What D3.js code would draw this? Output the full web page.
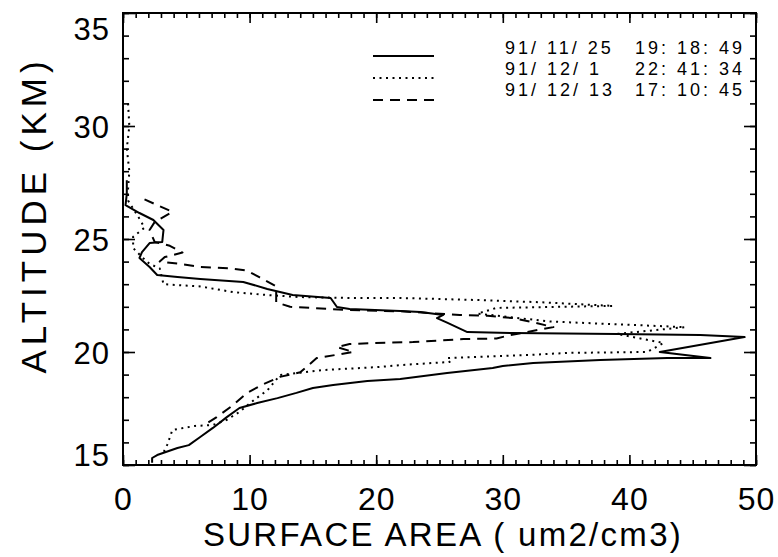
<!DOCTYPE html>
<html>
<head>
<meta charset="utf-8">
<script src="https://cdn.jsdelivr.net/npm/d3@7"></script>
<style>
html,body{margin:0;padding:0;background:#fff;}
svg{display:block;}
text{font-family:"Liberation Sans",Arial,Helvetica,sans-serif;fill:#000;}
</style>
</head>
<body>
<svg id="chart" width="778" height="557"></svg>
<script>
// ---- data ----
const xTicks = [0, 10, 20, 30, 40, 50];
const yTicks = [15, 20, 25, 30, 35];
const legendDates = ["91/ 11/ 25", "91/ 12/ 1", "91/ 12/ 13"];
const legendTimes = ["19: 18: 49", "22: 41: 34", "17: 10: 45"];

// 91/11/25 (solid)
const alt1 = [27.6,27.0,26.5,26.15,25.84,25.4,24.87,24.82,24.42,24.16,23.76,23.41,23.32,23.23,23.1,22.79,22.52,22.39,21.99,21.9,21.81,21.77,21.64,21.5,21.3,20.88,20.84,20.8,20.75,20.66,20.0,19.73,19.73,19.65,19.51,19.38,19.29,19.07,18.81,18.72,18.54,18.41,18.19,17.96,17.74,17.52,17.12,16.64,16.24,15.88,15.75,15.44,15.31,15.1];
const val1 = [0.3,0.3,0.2,1.3,2.4,3.2,3.1,2.1,1.5,1.3,2.1,2.7,4.3,6.1,9.5,11.4,13.4,16.4,16.9,17.9,21.9,23.5,25.3,24.8,25.6,27.2,30.8,39.0,45.6,49.1,42.4,46.4,43.0,37.7,32.4,30.0,29.2,25.6,21.9,19.3,16.6,15.0,13.7,12.2,10.6,9.2,8.2,7.1,6.1,5.2,4.3,2.7,2.3,2.3];

// 91/12/1 (dotted)
const alt2 = [31.0,30.0,29.0,28.0,27.2,26.7,25.9,25.5,25.1,24.6,24.2,23.9,23.7,23.0,22.9,22.65,22.52,22.43,22.39,22.39,22.3,22.2,22.04,21.95,21.7,21.35,21.1,20.8,20.4,20.0,19.96,19.87,19.73,19.56,19.42,19.34,19.2,18.98,18.3,17.9,17.35,17.0,16.77,16.73,16.55,15.9,15.44];
const val2 = [0.4,0.5,0.3,0.5,0.4,0.4,1.3,1.7,0.8,0.8,1.5,2.1,2.9,3.2,6.1,8.7,11.4,14.0,17.9,21.9,28.0,33.0,38.7,29.5,28.0,33.7,44.4,39.0,42.7,41.4,35.1,32.1,25.6,25.8,21.9,20.3,15.8,12.4,11.4,10.4,9.2,8.2,7.1,5.7,3.9,3.5,3.1];

// 91/12/13 (dashed)
const alt3 = [26.75,26.2,25.75,25.4,24.87,24.7,24.4,24.2,24.0,23.9,23.76,23.7,23.6,23.3,22.9,22.2,22.0,21.9,21.86,21.8,21.64,21.6,21.5,21.3,21.1,20.75,20.6,20.57,20.44,20.4,20.35,20.22,20.0,19.73,19.1,18.9,18.58,18.19,17.65,17.12,16.8];
const val3 = [1.7,3.9,2.5,2.1,2.5,3.7,4.7,3.3,2.9,4.5,6.1,8.5,9.8,10.8,12.1,12.1,13.2,16.4,17.7,22.0,26.6,28.8,30.8,32.5,34.0,30.6,29.5,26.9,22.9,19.7,17.9,16.9,18.2,15.3,14.0,12.4,11.1,9.8,8.7,7.4,6.5];

const series = [
  {alt: alt1, val: val1, dash: null},
  {alt: alt2, val: val2, dash: "2,4.5"},
  {alt: alt3, val: val3, dash: "10,7"}
];

// ---- layout ----
const L = 123, R = 756, T = 13, B = 465;
const svg = d3.select("#chart");
const x = d3.scaleLinear().domain([0, 50]).range([L, R]);
const y = d3.scaleLinear().domain([15, 35]).range([B, T]);

// frame
svg.append("rect").attr("x", L).attr("y", T).attr("width", R - L).attr("height", B - T)
  .attr("fill", "none").attr("stroke", "#000").attr("stroke-width", 2);

const minorX = d3.range(0, 51, 1);
const minorY = d3.range(15, 36, 1);

function styleAxis(g) {
  g.select(".domain").remove();
  g.selectAll(".tick line").attr("stroke", "#000").attr("stroke-width", 1.6);
}

// bottom
svg.append("g").attr("transform", `translate(0,${B})`)
  .call(d3.axisBottom(x).tickValues(minorX).tickSize(-5).tickFormat("")).call(styleAxis);
const gxb = svg.append("g").attr("transform", `translate(0,${B})`)
  .call(d3.axisBottom(x).tickValues(xTicks).tickSize(-10).tickPadding(22).tickFormat(d3.format("d")))
  .call(styleAxis);
gxb.selectAll("text").attr("font-size", 32).attr("letter-spacing", 1);
// top
svg.append("g").attr("transform", `translate(0,${T})`)
  .call(d3.axisTop(x).tickValues(minorX).tickSize(-5).tickFormat("")).call(styleAxis);
svg.append("g").attr("transform", `translate(0,${T})`)
  .call(d3.axisTop(x).tickValues(xTicks).tickSize(-10).tickFormat("")).call(styleAxis);
// left
svg.append("g").attr("transform", `translate(${L},0)`)
  .call(d3.axisLeft(y).tickValues(minorY).tickSize(-6).tickFormat("")).call(styleAxis);
const gyl = svg.append("g").attr("transform", `translate(${L},0)`)
  .call(d3.axisLeft(y).tickValues(yTicks).tickSize(-12).tickPadding(13).tickFormat(d3.format("d")))
  .call(styleAxis);
gyl.selectAll("text").attr("font-size", 31).attr("letter-spacing", 1)
  .attr("dy", d => d === 35 ? "0.85em" : (d === 15 ? "0.0em" : "0.36em"));
// right
svg.append("g").attr("transform", `translate(${R},0)`)
  .call(d3.axisRight(y).tickValues(minorY).tickSize(-6).tickFormat("")).call(styleAxis);
svg.append("g").attr("transform", `translate(${R},0)`)
  .call(d3.axisRight(y).tickValues(yTicks).tickSize(-12).tickFormat("")).call(styleAxis);

// axis titles
svg.append("text").attr("x", 443).attr("y", 546).attr("text-anchor", "middle")
  .attr("font-size", 33).attr("letter-spacing", 2.3)
  .text("SURFACE AREA ( um2/cm3)");
svg.append("text").attr("transform", "translate(46,215) rotate(-90)").attr("text-anchor", "middle")
  .attr("font-size", 35).attr("letter-spacing", 5)
  .text("ALTITUDE (KM)");

// lines
const line = d3.line().x(d => x(d[1])).y(d => y(d[0]));
series.forEach(s => {
  const pts = s.alt.map((a, i) => [a, s.val[i]]);
  svg.append("path").datum(pts).attr("d", line)
    .attr("fill", "none").attr("stroke", "#000").attr("stroke-width", 2)
    .attr("stroke-linejoin", "round")
    .attr("stroke-dasharray", s.dash);
});

// legend
const legY = [56, 78, 100];
const legTextY = [54, 75, 96];
series.forEach((s, i) => {
  svg.append("line").attr("x1", 373).attr("x2", 434).attr("y1", legY[i]).attr("y2", legY[i])
    .attr("stroke", "#000").attr("stroke-width", 2).attr("stroke-dasharray", s.dash);
  const t = svg.append("text").attr("y", legTextY[i]).attr("font-size", 18).attr("letter-spacing", 3);
  t.append("tspan").attr("x", 505).text(legendDates[i]);
  t.append("tspan").attr("x", 635).text(legendTimes[i]);
});
</script>
</body>
</html>
